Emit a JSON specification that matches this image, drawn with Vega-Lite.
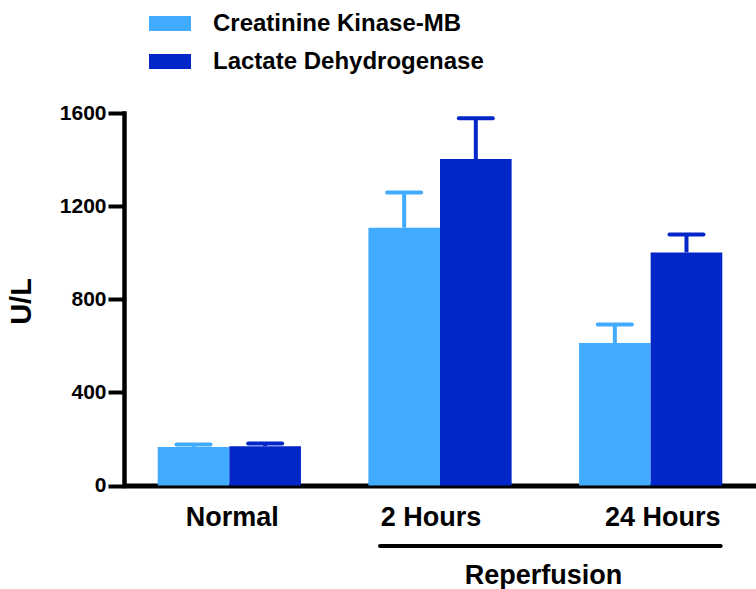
{
  "$schema": "https://vega.github.io/schema/vega-lite/v6.json",
  "width": 632,
  "height": 372.5,
  "autosize": {"type": "none"},
  "padding": {"left": 124, "top": 113, "right": 0, "bottom": 103.5},
  "config": {"view": {"stroke": null}, "font": "Liberation Sans"},
  "datasets": {
    "enzymes": [
      {"time": "Normal", "enzyme": "Creatinine Kinase-MB", "mean": 165, "upper": 176},
      {"time": "Normal", "enzyme": "Lactate Dehydrogenase", "mean": 169, "upper": 180},
      {"time": "2 Hours", "enzyme": "Creatinine Kinase-MB", "mean": 1107, "upper": 1259},
      {"time": "2 Hours", "enzyme": "Lactate Dehydrogenase", "mean": 1402, "upper": 1577},
      {"time": "24 Hours", "enzyme": "Creatinine Kinase-MB", "mean": 612, "upper": 692},
      {"time": "24 Hours", "enzyme": "Lactate Dehydrogenase", "mean": 1001, "upper": 1078}
    ],
    "bracket": [
      {"from": "2 Hours", "to": "24 Hours", "label": "Reperfusion"}
    ]
  },
  "layer": [
    {
      "data": {"name": "enzymes"},
      "mark": {"type": "bar"},
      "encoding": {
        "x": {
          "field": "time", "type": "nominal",
          "scale": {"domain": ["Normal", "2 Hours", "24 Hours"], "paddingInner": 0.32, "paddingOuter": 0.16},
          "axis": {
            "title": "Reperfusion",
            "labelFontSize": 27, "labelFontWeight": "bold", "labelColor": "black", "labelAngle": 0,
            "ticks": false, "tickSize": 0, "labelPadding": 19, "labelLimit": 0,
            "labelOffset": {"condition": [{"test": "datum.value === '2 Hours'", "value": -9}, {"test": "datum.value === '24 Hours'", "value": 12}], "value": 3},
            "domainWidth": 5, "domainColor": "black",
            "titleFontSize": 27, "titleFontWeight": "bold", "titleColor": "black",
            "titleX": 419, "titleY": 98, "titleBaseline": "alphabetic", "titleAlign": "center"
          }
        },
        "xOffset": {"field": "enzyme", "type": "nominal", "sort": ["Creatinine Kinase-MB", "Lactate Dehydrogenase"], "scale": {"paddingInner": 0, "paddingOuter": 0}},
        "y": {
          "field": "mean", "type": "quantitative",
          "scale": {"domain": [0, 1600], "nice": false},
          "axis": {
            "title": "U/L", "values": [0, 400, 800, 1200, 1600], "format": "d",
            "labelFontSize": 21, "labelFontWeight": "bold", "labelColor": "black",
            "tickSize": 16, "tickWidth": 4, "tickColor": "black",
            "domainWidth": 4.5, "domainColor": "black", "domainCap": "square",
            "labelPadding": 2, "grid": false, "labelFlush": false,
            "titleFontSize": 29, "titleFontWeight": "bold", "titleColor": "black",
            "titleX": -103, "titleY": 188, "titleAngle": -90, "titleBaseline": "middle", "titleAlign": "center"
          }
        },
        "color": {
          "field": "enzyme", "type": "nominal",
          "scale": {"domain": ["Creatinine Kinase-MB", "Lactate Dehydrogenase"], "range": ["#40abff", "#0226c8"]},
          "legend": {
            "orient": "none", "legendX": 25, "legendY": -110.5, "title": null,
            "symbolType": "M-1,-0.357H1V0.357H-1Z", "symbolSize": 1764, "symbolStrokeWidth": 0, "symbolOpacity": 1,
            "labelFontSize": 24, "labelFontWeight": "bold", "labelColor": "black", "labelOffset": 22, "labelLimit": 0,
            "rowPadding": 5, "padding": 0
          }
        }
      }
    },
    {
      "data": {"name": "enzymes"},
      "mark": {"type": "rule", "strokeWidth": 4},
      "encoding": {
        "x": {"field": "time", "type": "nominal", "scale": {"domain": ["Normal", "2 Hours", "24 Hours"]}},
        "xOffset": {"field": "enzyme", "type": "nominal", "sort": ["Creatinine Kinase-MB", "Lactate Dehydrogenase"]},
        "y": {"field": "mean", "type": "quantitative", "scale": {"domain": [0, 1600], "nice": false}},
        "y2": {"field": "upper"},
        "color": {"field": "enzyme", "type": "nominal", "legend": null}
      }
    },
    {
      "data": {"name": "enzymes"},
      "mark": {"type": "tick", "size": 38, "thickness": 4, "cornerRadius": 2, "orient": "horizontal", "opacity": 1},
      "encoding": {
        "x": {"field": "time", "type": "nominal", "scale": {"domain": ["Normal", "2 Hours", "24 Hours"]}},
        "xOffset": {"field": "enzyme", "type": "nominal", "sort": ["Creatinine Kinase-MB", "Lactate Dehydrogenase"]},
        "y": {"field": "upper", "type": "quantitative", "scale": {"domain": [0, 1600], "nice": false}},
        "color": {"field": "enzyme", "type": "nominal", "legend": null}
      }
    },
    {
      "data": {"name": "bracket"},
      "mark": {"type": "rule", "strokeWidth": 4, "color": "black", "strokeCap": "round", "xOffset": -60, "x2Offset": 70},
      "encoding": {
        "x": {"field": "from", "type": "nominal", "scale": {"domain": ["Normal", "2 Hours", "24 Hours"]}},
        "x2": {"field": "to"},
        "y": {"datum": -260, "type": "quantitative", "scale": {"domain": [0, 1600], "nice": false}}
      }
    }
  ]
}
